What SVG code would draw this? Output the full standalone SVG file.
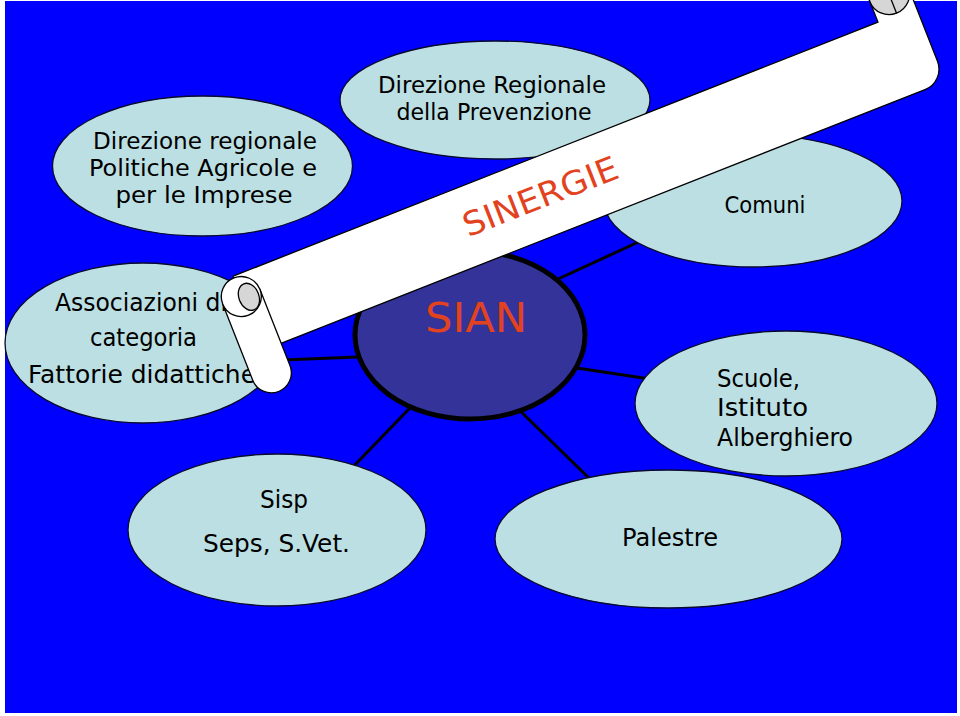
<svg xmlns="http://www.w3.org/2000/svg" width="960" height="716" viewBox="0 0 960 716">
<style>
.bg{fill:#0000ff}
.node ellipse{fill:#bbdfe2;stroke:#0a0a30;stroke-width:1.3}
.lbl{font-family:"DejaVu Sans","Liberation Sans",sans-serif;fill:#000}
.conn line{stroke:#000;stroke-width:3}
.scroll{fill:#fff;stroke:#000;stroke-width:1.3;stroke-linejoin:round}
.shade{fill:#d6d6d6;stroke:#000;stroke-width:1.3}
.red{font-family:"DejaVu Sans","Liberation Sans",sans-serif;fill:#e3421e}
</style>
<rect x="0" y="0" width="960" height="716" fill="#fff"/>
<rect class="bg" x="5" y="1" width="952" height="712"/>

<g id="connectors" class="conn">
  <line x1="545" y1="285" x2="645" y2="239"/>
  <line x1="560" y1="365.5" x2="650" y2="379"/>
  <line x1="510" y1="401" x2="592" y2="481"/>
  <line x1="420" y1="397.5" x2="350" y2="470"/>
  <line x1="270" y1="360.4" x2="370" y2="356.4"/>
</g>

<g id="node-dir-agricole" class="node">
  <ellipse cx="202.5" cy="166" rx="150" ry="70"/>
  <text class="lbl" font-size="23" text-anchor="middle" x="205" y="149" textLength="224" lengthAdjust="spacingAndGlyphs">Direzione regionale</text>
  <text class="lbl" font-size="23" text-anchor="middle" x="203" y="176" textLength="228" lengthAdjust="spacingAndGlyphs">Politiche Agricole e</text>
  <text class="lbl" font-size="23" text-anchor="middle" x="204" y="203" textLength="177" lengthAdjust="spacingAndGlyphs">per le Imprese</text>
</g>

<g id="node-dir-prevenzione" class="node">
  <ellipse cx="495" cy="100" rx="155" ry="59"/>
  <text class="lbl" font-size="23" text-anchor="middle" x="492" y="93" textLength="228" lengthAdjust="spacingAndGlyphs">Direzione Regionale</text>
  <text class="lbl" font-size="23" text-anchor="middle" x="494" y="120" textLength="195" lengthAdjust="spacingAndGlyphs">della Prevenzione</text>
</g>

<g id="node-comuni" class="node">
  <ellipse cx="753" cy="201" rx="149" ry="66"/>
  <text class="lbl" font-size="23" text-anchor="middle" x="765" y="213" textLength="81" lengthAdjust="spacingAndGlyphs">Comuni</text>
</g>

<g id="node-associazioni" class="node">
  <ellipse cx="143" cy="343" rx="138" ry="80"/>
  <text class="lbl" font-size="24.5" x="55" y="311" textLength="172" lengthAdjust="spacingAndGlyphs">Associazioni di</text>
  <text class="lbl" font-size="24.5" text-anchor="middle" x="143.5" y="346" textLength="107" lengthAdjust="spacingAndGlyphs">categoria</text>
  <text class="lbl" font-size="24.5" text-anchor="middle" x="142" y="383" textLength="228" lengthAdjust="spacingAndGlyphs">Fattorie didattiche</text>
</g>

<g id="node-scuole" class="node">
  <ellipse cx="786" cy="403.5" rx="151" ry="72.5"/>
  <text class="lbl" font-size="24.5" x="717" y="387" textLength="83" lengthAdjust="spacingAndGlyphs">Scuole,</text>
  <text class="lbl" font-size="24.5" x="717" y="416" textLength="91" lengthAdjust="spacingAndGlyphs">Istituto</text>
  <text class="lbl" font-size="24.5" x="717" y="446" textLength="136" lengthAdjust="spacingAndGlyphs">Alberghiero</text>
</g>

<g id="node-sisp" class="node">
  <ellipse cx="277" cy="530" rx="149" ry="76"/>
  <text class="lbl" font-size="25" text-anchor="middle" x="284" y="508" textLength="48" lengthAdjust="spacingAndGlyphs">Sisp</text>
  <text class="lbl" font-size="25" text-anchor="middle" x="276.5" y="552" textLength="147" lengthAdjust="spacingAndGlyphs">Seps, S.Vet.</text>
</g>

<g id="node-palestre" class="node">
  <ellipse cx="668.5" cy="539" rx="173.5" ry="69"/>
  <text class="lbl" font-size="25" text-anchor="middle" x="670" y="546" textLength="96" lengthAdjust="spacingAndGlyphs">Palestre</text>
</g>

<g id="node-sian">
  <ellipse cx="470" cy="335" rx="115" ry="84" fill="#333399" stroke="#000" stroke-width="5"/>
  <text class="red" font-size="41" text-anchor="middle" x="476" y="332" textLength="102" lengthAdjust="spacingAndGlyphs">SIAN</text>
</g>

<g id="scroll-sinergie" transform="translate(330,238) rotate(-21.5)">
  <path class="scroll" d="M -104,0 L 589,0 L 589,-22 A 20.5 20.5 0 0 1 630,-22 L 630,58 A 22 22 0 0 1 608,80 L -104,80 Z"/>
  <circle class="shade" cx="609.5" cy="-22" r="20.5"/>
  <line x1="609.5" y1="-22" x2="609.5" y2="-1.5" stroke="#000" stroke-width="1.3"/>
  <path class="scroll" d="M -84,22 L -84,104 A 20 20 0 0 1 -124,104 L -124,22 Z"/>
  <circle class="scroll" cx="-104" cy="22" r="20"/>
  <ellipse class="shade" cx="-97" cy="25" rx="10" ry="14"/>
  <text class="red" font-size="33" x="129" y="50" textLength="164" lengthAdjust="spacingAndGlyphs">SINERGIE</text>
</g>
</svg>
